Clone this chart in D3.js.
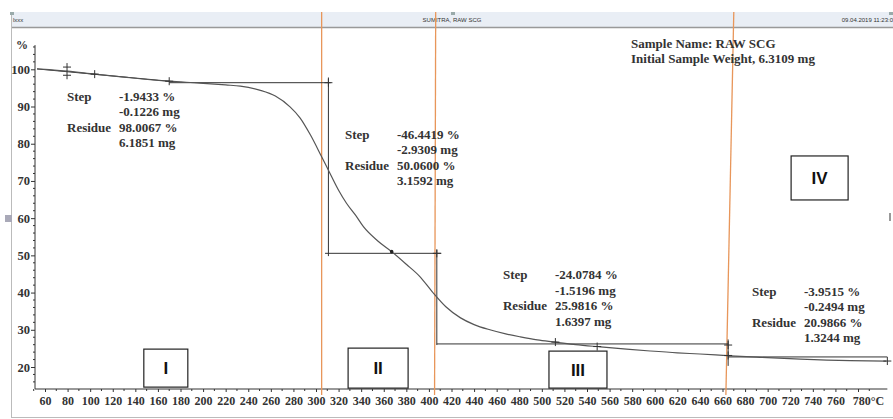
<!DOCTYPE html>
<html><head><meta charset="utf-8">
<script src="https://cdn.jsdelivr.net/npm/d3@7/dist/d3.min.js"></script>
<style>
html,body{margin:0;padding:0;background:#fff;}
svg{display:block;}
</style></head>
<body>
<svg id="c" width="893" height="419"></svg>
<script>
// ---- data ----
const temps = [53, 60, 80, 104, 130, 170, 197, 220, 233, 250, 264, 277, 286, 295, 305, 311, 320, 327, 335, 342, 355, 367, 380, 392, 403, 415, 428, 440, 454, 468, 481, 496, 512, 530, 552, 575, 596, 620, 640, 667, 693, 729, 773, 805];
const mass  = [100.1, 100.0, 99.5, 98.7, 97.9, 96.8, 96.3, 95.8, 95.5, 94.4, 92.8, 89.9, 86.9, 82.4, 76.5, 72.9, 67.5, 64.0, 60.8, 57.7, 53.8, 51.0, 47.6, 44.3, 40.2, 36.2, 33.2, 31.4, 30.0, 28.9, 28.1, 27.3, 26.7, 26.0, 25.4, 24.8, 24.3, 23.8, 23.5, 23.0, 22.6, 22.1, 21.7, 21.6];
const xTicks = [60,80,100,120,140,160,180,200,220,240,260,280,300,320,340,360,380,400,420,440,460,480,500,520,540,560,580,600,620,640,660,680,700,720,740,760,780];
const yTicks = [20,30,40,50,60,70,80,90,100];
const boundaries = [[305,305],[406,405],[670,663]];      // orange region dividers [top, bottom] in °C
const regionLabels = ["I","II","III","IV"];
const regionPos = [[167,19.7],[355,19.7],[532,19.3],[746,70.8]];
const stepLines = [ // baseline/step construction lines [T1,P1,T2,P2]
  [53,100.1,170,96.8],[170,96.4,313,96.4],[311,97.8,311,49.8],[308,50.55,411,50.55],
  [407,51.5,407,25.9],[407,26.2,665,26.2],[665,27.4,665,20.3],[665,22.7,806,22.7]
];
const markers = [[79.5,100.6],[79.5,98.4],[104,98.7],[170,96.8],[311,96.4],[407,50.55],[512,26.7],[549,25.5],[665,25.9],[665,23.1],[806,21.6]];
const dots = [[367,51.0]];
const stepTexts = [
  {T:79.5,  P:91.5, v:["-1.9433 %","-0.1226 mg","98.0067 %","6.1851 mg"]},
  {T:325.7, P:81.3, v:["-46.4419 %","-2.9309 mg","50.0600 %","3.1592 mg"]},
  {T:465.6, P:43.6, v:["-24.0784 %","-1.5196 mg","25.9816 %","1.6397 mg"]},
  {T:686.1, P:39.1, v:["-3.9515 %","-0.2494 mg","20.9866 %","1.3244 mg"]}
];
const sampleInfo = ["Sample Name: RAW SCG","Initial Sample Weight, 6.3109 mg"];

// ---- scales ----
const svg = d3.select("#c");
const x = d3.scaleLinear().domain([60,780]).range([45,858]);
const y = d3.scaleLinear().domain([20,100]).range([367,69.3]);
const serif = "'Liberation Serif','Times New Roman',serif";

// header strip & frame
svg.append("rect").attr("x",11).attr("y",12).attr("width",882).attr("height",15).attr("fill","#e9eef5");
svg.append("line").attr("x1",11).attr("x2",893).attr("y1",27.5).attr("y2",27.5).attr("stroke","#999").attr("stroke-width",1.5);
svg.append("line").attr("x1",11.5).attr("x2",11.5).attr("y1",12).attr("y2",418).attr("stroke","#bbb");
svg.append("line").attr("x1",11).attr("x2",893).attr("y1",417.5).attr("y2",417.5).attr("stroke","#bbb");
[[10,12],[451,12],[889,12]].forEach(p=>svg.append("rect").attr("x",p[0]).attr("y",p[1]).attr("width",4).attr("height",3).attr("fill","#9aa"));
svg.append("rect").attr("x",5).attr("y",215).attr("width",7).attr("height",7).attr("fill","#a9a9b8");
svg.append("rect").attr("x",889).attr("y",213).attr("width",2).attr("height",8).attr("fill","#999");
const hdr = svg.append("g").attr("font-family","'Liberation Sans',Arial,sans-serif").attr("font-size",6).attr("fill","#333");
hdr.append("text").attr("x",13).attr("y",22).text("lxxx");
hdr.append("text").attr("x",452).attr("y",22).attr("text-anchor","middle").text("SUMITRA, RAW SCG");
hdr.append("text").attr("x",893).attr("y",22).attr("text-anchor","end").text("09.04.2019 11:23:0");

// axes
const yAxis = d3.axisLeft(y).tickValues(yTicks).tickSize(4).tickPadding(1).tickFormat(d3.format("d"));
const gy = svg.append("g").attr("transform","translate(35,0)").call(yAxis);
gy.select(".domain").remove();
gy.append("line").attr("x1",0).attr("x2",0).attr("y1",y(106.5)).attr("y2",y(14.1)).attr("stroke","#333");
const yMinor = d3.range(16,107,2).filter(v=>v%10!==0);
gy.selectAll(".minor").data(yMinor).join("line").attr("x1",-2).attr("x2",0).attr("y1",d=>y(d)).attr("y2",d=>y(d)).attr("stroke","#333");
gy.selectAll("text").attr("font-family",serif).attr("font-weight","bold").attr("font-size",12.5).attr("fill","#333");
gy.selectAll(".tick line").attr("stroke","#333");
gy.append("text").attr("x",-13).attr("y",y(105.5)).attr("text-anchor","middle").attr("font-family",serif).attr("font-weight","bold").attr("font-size",12).attr("fill","#333").text("%");

const xAxis = d3.axisBottom(x).tickValues(xTicks).tickSize(3).tickPadding(4).tickFormat(d=>d===780?"780°C":d);
const gx = svg.append("g").attr("transform","translate(0,389)").call(xAxis);
gx.select(".domain").remove();
gx.append("line").attr("x1",35).attr("x2",x(806)).attr("y1",0).attr("y2",0).attr("stroke","#333");
const xMinor = d3.range(50,801,10).filter(v=>v%20!==0);
gx.selectAll(".minor").data(xMinor).join("line").attr("x1",d=>x(d)).attr("x2",d=>x(d)).attr("y1",0).attr("y2",2).attr("stroke","#333");
gx.selectAll("text").attr("font-family",serif).attr("font-weight","bold").attr("font-size",12).attr("fill","#333");
gx.selectAll(".tick line").attr("stroke","#333");
gx.selectAll(".tick").filter(d=>d===780).select("text").attr("dx",10);

// orange boundaries
svg.selectAll(".bound").data(boundaries).join("line")
  .attr("x1",d=>x(d[0])).attr("x2",d=>x(d[1])).attr("y1",12).attr("y2",395)
  .attr("stroke","#e8965a").attr("stroke-width",1.3);

// step construction lines
svg.selectAll(".step").data(stepLines).join("line")
  .attr("x1",d=>x(d[0])).attr("y1",d=>y(d[1])).attr("x2",d=>x(d[2])).attr("y2",d=>y(d[3]))
  .attr("stroke","#333").attr("stroke-width",1);

// curve
const line = d3.line().x((d,i)=>x(temps[i])).y(d=>y(d)).curve(d3.curveMonotoneX);
svg.append("path").datum(mass).attr("d",line).attr("fill","none").attr("stroke","#555").attr("stroke-width",1.2);

// markers
const mk = svg.append("g").attr("stroke","#333").attr("stroke-width",1);
markers.forEach(m=>{
  const cx = x(m[0]), cy = y(m[1]);
  mk.append("line").attr("x1",cx-4).attr("x2",cx+4).attr("y1",cy).attr("y2",cy);
  mk.append("line").attr("x1",cx).attr("x2",cx).attr("y1",cy-4).attr("y2",cy+4);
});
svg.selectAll(".dot").data(dots).join("circle").attr("cx",d=>x(d[0])).attr("cy",d=>y(d[1])).attr("r",1.8).attr("fill","#222");

// step texts
stepTexts.forEach(s=>{
  const g = svg.append("g").attr("font-family",serif).attr("font-weight","bold").attr("font-size",13).attr("fill","#333");
  const x0 = x(s.T), y0 = y(s.P);
  g.append("text").attr("x",x0).attr("y",y0).text("Step");
  g.append("text").attr("x",x0).attr("y",y0+31).text("Residue");
  s.v.forEach((t,i)=>g.append("text").attr("x",x0+52).attr("y",y0+i*15.5).text(t));
});

// sample info
sampleInfo.forEach((t,i)=>svg.append("text").attr("x",631).attr("y",48+i*15)
  .attr("font-family",serif).attr("font-weight","bold").attr("font-size",13).attr("fill","#333").text(t));

// region label boxes
regionLabels.forEach((t,i)=>{
  const w = [44,60,58,57][i], h = [38,40,37,44][i];
  const cx = x(regionPos[i][0]), cy = y(regionPos[i][1]);
  svg.append("rect").attr("x",cx-w/2).attr("y",cy-h/2).attr("width",w).attr("height",h)
    .attr("fill","#fff").attr("stroke","#222").attr("stroke-width",1.2);
  svg.append("text").attr("x",cx).attr("y",cy+6).attr("text-anchor","middle")
    .attr("font-family","'Liberation Sans',Arial,sans-serif").attr("font-weight","bold").attr("font-size",17).attr("fill","#111").text(t);
});
</script>
</body></html>
